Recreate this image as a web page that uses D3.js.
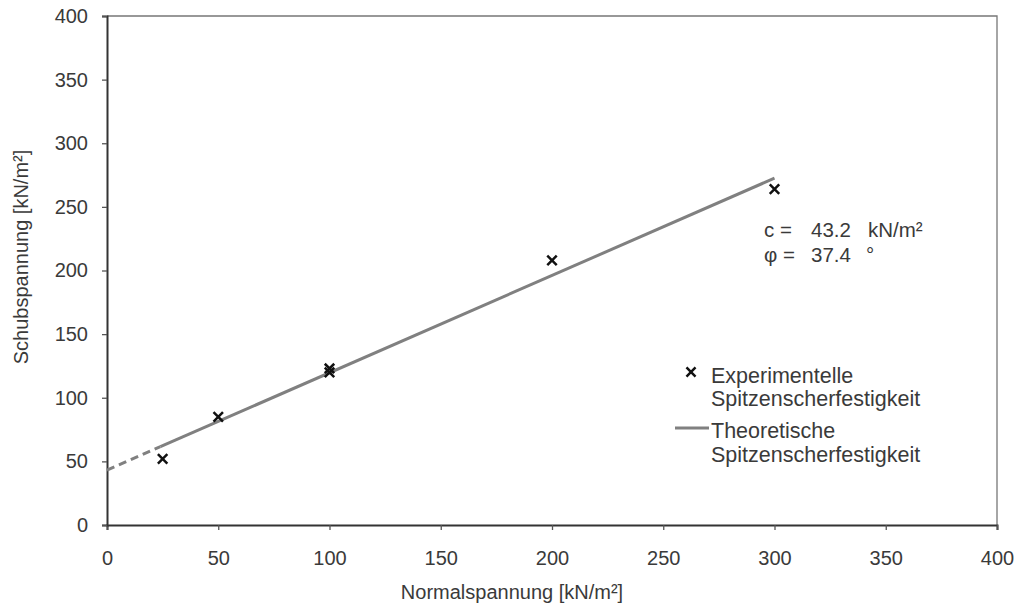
<!DOCTYPE html>
<html>
<head>
<meta charset="utf-8">
<script src="https://cdn.jsdelivr.net/npm/d3@7"></script>
<style>
  body { margin: 0; background: #fff; }
  text { font-family: "Liberation Sans", Arial, sans-serif; }
</style>
</head>
<body>
<svg id="chart" width="1018" height="608"></svg>
<script>
// measured points (normal stress, shear stress)
const normalStress = [25, 50, 100, 100, 200, 300];
const shearStress = [52, 85, 120, 123, 208, 264];
// fit parameters
const cohesion = 43.2;
const frictionAngle = 37.4;
const fitStart = 24;
const fitEnd = 300;
const xTicks = [0, 50, 100, 150, 200, 250, 300, 350, 400];
const yTicks = [0, 50, 100, 150, 200, 250, 300, 350, 400];

const margin = { top: 16, right: 21, bottom: 83, left: 107 };
const fullWidth = 1018, fullHeight = 608;
const width = fullWidth - margin.left - margin.right;
const height = fullHeight - margin.top - margin.bottom;
const textColor = "#3a3a3a";

const svg = d3.select("#chart");
const g = svg.append("g").attr("transform", `translate(${margin.left},${margin.top})`);

const x = d3.scaleLinear().domain([0, 400]).range([0, width]);
const y = d3.scaleLinear().domain([0, 400]).range([height, 0]);

const tanPhi = Math.tan(frictionAngle * Math.PI / 180);
const fit = v => cohesion + tanPhi * v;

// frame (top and right)
g.append("path")
  .attr("d", `M0,0H${width}V${height}`)
  .attr("fill", "none").attr("stroke", "#777").attr("stroke-width", 1.3);

const xAxis = g.append("g")
  .attr("transform", `translate(0,${height})`)
  .call(d3.axisBottom(x).tickValues(xTicks).tickSize(5).tickPadding(21));
const yAxis = g.append("g")
  .call(d3.axisLeft(y).tickValues(yTicks).tickSize(5).tickPadding(14));
[xAxis, yAxis].forEach(a => {
  a.select(".domain").attr("stroke", "#333").attr("stroke-width", 2);
  a.selectAll(".tick line").attr("stroke", "#555").attr("stroke-width", 1.3);
  a.selectAll("text").style("font-size", "20px").style("fill", textColor);
});

const line = d3.line().x(d => x(d)).y(d => y(fit(d)));
g.append("path")
  .attr("d", line([0, fitStart]))
  .attr("fill", "none").attr("stroke", "#808080").attr("stroke-width", 3)
  .attr("stroke-dasharray", "8,5");
g.append("path")
  .attr("d", line([fitStart, fitEnd]))
  .attr("fill", "none").attr("stroke", "#808080").attr("stroke-width", 3);

const cross = d3.symbol().type(d3.symbolX).size(60);
g.selectAll(".pt")
  .data(normalStress.map((v, i) => [v, shearStress[i]]))
  .enter().append("path")
  .attr("class", "pt")
  .attr("transform", d => `translate(${x(d[0])},${y(d[1])})`)
  .attr("d", cross)
  .attr("fill", "none").attr("stroke", "#111").attr("stroke-width", 2.5);

// parameter annotation
const ann = svg.append("g").style("font-size", "20.5px").style("fill", textColor);
ann.append("text").attr("x", 764).attr("y", 237).text("c =");
ann.append("text").attr("x", 811).attr("y", 237).text("43.2");
ann.append("text").attr("x", 868).attr("y", 237).text("kN/m²");
ann.append("text").attr("x", 764).attr("y", 262).text("φ =");
ann.append("text").attr("x", 811).attr("y", 262).text("37.4");
ann.append("text").attr("x", 866).attr("y", 262).text("°");

// legend
const leg = svg.append("g").style("font-size", "21.5px").style("fill", textColor);
leg.append("path")
  .attr("transform", "translate(691,372)")
  .attr("d", d3.symbol().type(d3.symbolX).size(55))
  .attr("fill", "none").attr("stroke", "#111").attr("stroke-width", 2.5);
leg.append("text").attr("x", 711).attr("y", 383).text("Experimentelle");
leg.append("text").attr("x", 711).attr("y", 406).text("Spitzenscherfestigkeit");
leg.append("line").attr("x1", 675).attr("x2", 709).attr("y1", 428).attr("y2", 428)
  .attr("stroke", "#808080").attr("stroke-width", 3);
leg.append("text").attr("x", 711).attr("y", 438).text("Theoretische");
leg.append("text").attr("x", 711).attr("y", 462).text("Spitzenscherfestigkeit");

// axis titles
svg.append("text")
  .attr("x", 512).attr("y", 599)
  .attr("text-anchor", "middle")
  .style("font-size", "20px").style("fill", textColor)
  .text("Normalspannung [kN/m²]");
svg.append("text")
  .attr("transform", `translate(28,257) rotate(-90)`)
  .attr("text-anchor", "middle")
  .style("font-size", "20px").style("fill", textColor)
  .text("Schubspannung [kN/m²]");
</script>
</body>
</html>
